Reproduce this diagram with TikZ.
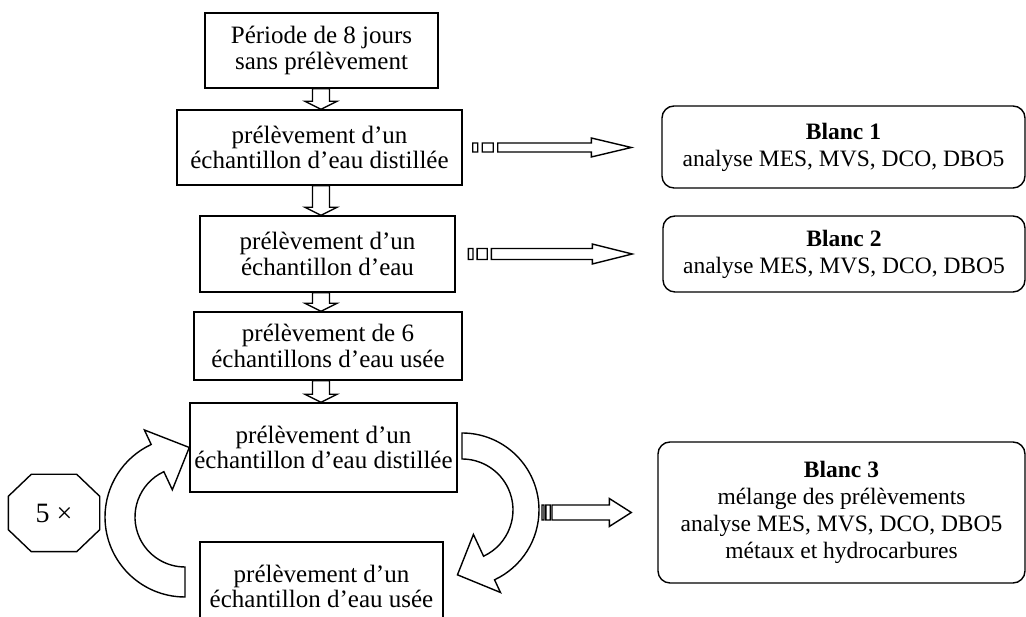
\documentclass[tikz,border=0pt]{standalone}
\usepackage{fontspec}
\setmainfont{Liberation Serif}
\usetikzlibrary{calc}

% hollow arrow down between two steps
\newcommand{\blockdown}[2]{%
  \draw[hollow] let \p1=(spine |- #1.south), \p2=(spine |- #2.north) in
    (\x1-8.5pt,\y1) -- (\x1-8.5pt,\y2+8pt) -- (\x1-16pt,\y2+8pt) -- (\x1,\y2)
    -- (\x1+16pt,\y2+8pt) -- (\x1+8.5pt,\y2+8pt) -- (\x1+8.5pt,\y1) -- cycle;}
% striped arrow: tail, tip, stripe unit, half shaft, half head, head length
\newcommand{\stripearrow}[6]{%
  \draw[hollow] let \p1=(#1), \p2=(#2) in
    (\x1,\y1-#4) rectangle (\x1+#3,\y1+#4)
    (\x1+1.9*#3,\y1-#4) rectangle (\x1+4.1*#3,\y1+#4)
    (\x1+5*#3,\y1-#4) -- (\x2-#6,\y1-#4) -- (\x2-#6,\y1-#5) -- (\x2,\y1)
    -- (\x2-#6,\y1+#5) -- (\x2-#6,\y1+#4) -- (\x1+5*#3,\y1+#4) -- cycle;}

\begin{document}
\begin{tikzpicture}[x=1pt, y=1pt, line width=1.4pt,
  pbox/.style={draw, font=\fontsize{25}{25.5}\selectfont, align=center, inner sep=0pt},
  blanc/.style={draw, rounded corners=12pt, font=\fontsize{23.5}{27}\selectfont, align=center, inner sep=0pt},
  hollow/.style={draw, line join=miter}]
\clip (0,0) rectangle (1026,617);
% Steps
\node[pbox, minimum width=233pt, minimum height=75pt] (b1) at (321.5,566.5) {Période de 8 jours\\sans prélèvement};
\node[pbox, minimum width=285pt, minimum height=75pt] (b2) at (319.5,469.5) {prélèvement d’un\\échantillon d’eau distillée};
\node[pbox, minimum width=255pt, minimum height=76pt] (b3) at (327.5,363) {prélèvement d’un\\échantillon d’eau};
\node[pbox, minimum width=268pt, minimum height=68pt] (b4) at (328,271) {prélèvement de 6\\échantillons d’eau usée};
\node[pbox, minimum width=267pt, minimum height=89pt] (b5) at (323.5,169.5) {prélèvement d’un\\échantillon d’eau distillée};
\node[pbox, minimum width=243pt, minimum height=89pt] (b6) at (321.5,30.5) {prélèvement d’un\\échantillon d’eau usée};
% Blanks
\node[blanc, minimum width=363pt, minimum height=82pt] (blanc1) at (843.5,470) {\textbf{Blanc 1}\\analyse MES, MVS, DCO, DBO5};
\node[blanc, minimum width=362pt, minimum height=76pt] (blanc2) at (844,363) {\textbf{Blanc 2}\\analyse MES, MVS, DCO, DBO5};
\node[blanc, minimum width=367pt, minimum height=141pt] (blanc3) at (841.5,104.5) {\textbf{Blanc 3}\\mélange des prélèvements\\analyse MES, MVS, DCO, DBO5\\métaux et hydrocarbures};
% Repeat count
\node[minimum width=90pt, minimum height=76pt, inner sep=0pt, font=\fontsize{28}{30}\selectfont] (rep) at (54,104) {5 ×};
\draw[hollow] ([xshift=23pt]rep.north west) -- ([xshift=-23pt]rep.north east) -- ([yshift=-22pt]rep.north east)
  -- ([yshift=22pt]rep.south east) -- ([xshift=-23pt]rep.south east) -- ([xshift=23pt]rep.south west)
  -- ([yshift=22pt]rep.south west) -- ([yshift=-22pt]rep.north west) -- cycle;
% Down arrows
\coordinate (spine) at (321,0);
\blockdown{b1}{b2}
\blockdown{b2}{b3}
\blockdown{b3}{b4}
\blockdown{b4}{b5}
% Striped arrows to the blanks
\stripearrow{[xshift=10pt]b2.east}{[xshift=-30pt]blanc1.west}{5pt}{4.5pt}{9.5pt}{40pt}
\stripearrow{[xshift=12.7pt]b3.east}{[xshift=-30pt]blanc2.west}{4.6pt}{5.5pt}{10pt}{40pt}
\stripearrow{[xshift=-115.3pt]blanc3.west}{[xshift=-26pt]blanc3.west}{2pt}{7.5pt}{14pt}{22pt}
% Loop: back up to the distilled water
\coordinate (cl) at (185,100);
\draw[hollow] ([shift={(270:80pt)}]cl) arc[start angle=270, end angle=115, radius=80pt]
  -- ([shift={(115:96pt)}]cl) -- (b5.west) -- ([shift={(115:30pt)}]cl)
  -- ([shift={(115:50pt)}]cl) arc[start angle=115, end angle=270, radius=50pt] -- cycle;
% Loop: down to the waste water
\coordinate (cr) at (462,107);
\draw[hollow] ([shift={(90:77pt)}]cr) arc[start angle=90, end angle=-65, radius=77pt]
  -- ([shift={(-65:91pt)}]cr) -- ([shift={(-94:65pt)}]cr) -- ([shift={(-65:27pt)}]cr)
  -- ([shift={(-65:51pt)}]cr) arc[start angle=-65, end angle=90, radius=51pt] -- cycle;
\end{tikzpicture}
\end{document}
